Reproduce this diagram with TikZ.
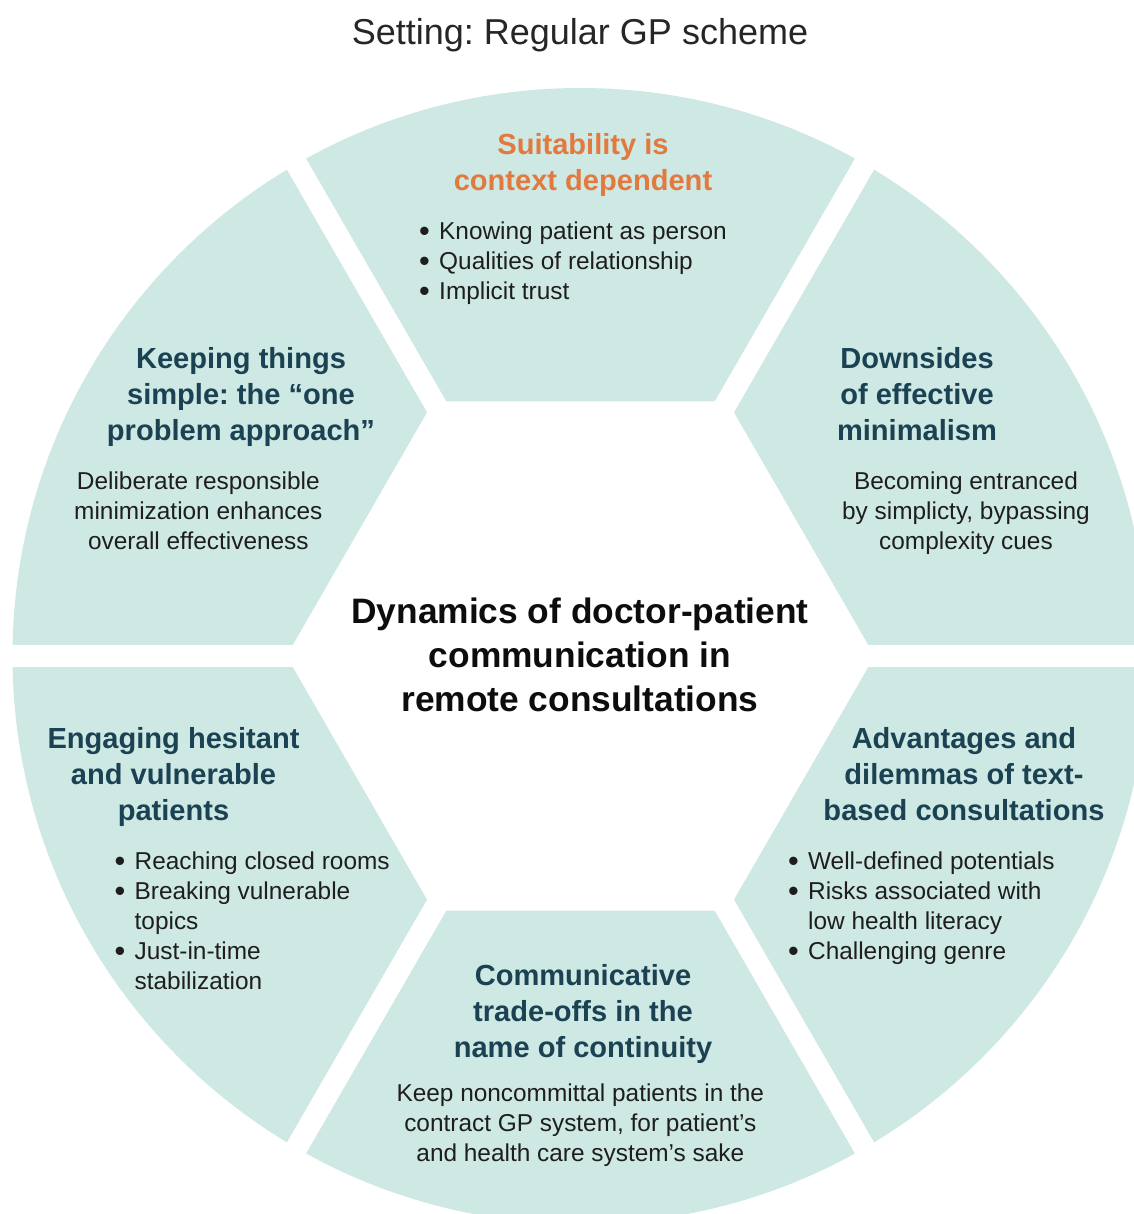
\documentclass[tikz,border=0pt]{standalone}
\usepackage{fontspec}
\setmainfont{Liberation Sans}
\usepackage{xcolor}
\usetikzlibrary{positioning}
\frenchspacing
\definecolor{segfill}{HTML}{CEE8E4}
\definecolor{headteal}{HTML}{1B4252}
\definecolor{headorange}{HTML}{E27A3F}
\definecolor{bodyink}{HTML}{1E1E1E}
\tikzset{%
  % text classes
  settingtxt/.style={font=\fontsize{27}{33}\selectfont, text=black!85, inner sep=0pt},
  hubtxt/.style={align=center, font=\fontsize{26.5}{33}\selectfont\bfseries, text=black!95, inner sep=0pt},
  head/.style={align=center, text=headteal, font=\fontsize{21.8}{27}\selectfont\bfseries,
    inner sep=0pt, text height=16pt, text depth=5.5pt},
  body/.style={align=center, text=bodyink, font=\fontsize{18.3}{22.5}\selectfont, inner sep=0pt},
  bullets/.style={body, align=left},
  % ring pieces
  gapline/.style={draw=white, line width=16.5pt},
}
\newcommand{\bitem}{\makebox[0.82em][l]{\raisebox{-1.4pt}{\fontsize{23}{0}\selectfont\textbullet}}}
\newcommand{\bcont}{\hspace*{0.82em}}

\begin{document}
\begin{tikzpicture}[x=0.75pt, y=-0.75pt]
  \useasboundingbox (0,0) rectangle (1134,1214);
  \clip (0,0) rectangle (1134,1214);
  \coordinate (ctr) at (580.5,656);

  % six segments around a hexagonal hub
  \fill[segfill] (ctr) circle[radius=568];
  \foreach \a in {0,60,...,300}
    \draw[gapline] (ctr) -- ++(\a:600);
  \fill[white, shift={(ctr)}] (0:294) \foreach \a in {60,120,...,300}{ -- (\a:294)} -- cycle;

  \node[settingtxt] (setting) at (580,35) {Setting: Regular GP scheme};
  \node[hubtxt] (hub) at (580,655) {Dynamics of doctor-patient\\communication in\\remote consultations};

  \node[head, text=headorange] (suithead) at (583,183) {Suitability is\\context dependent};
  \node[bullets, below=18pt of suithead, xshift=-7.5pt] (suitlist)
    {\bitem Knowing patient as person\\\bitem Qualities of relationship\\\bitem Implicit trust};

  \node[head] (keephead) at (241,433) {Keeping things\\simple: the “one\\problem approach”};
  \node[body, below=18pt of keephead, xshift=-32pt] (keepbody)
    {Deliberate responsible\\minimization enhances\\overall effectiveness};

  \node[head] (downhead) at (917,433) {Downsides\\of effective\\minimalism};
  \node[body, below=18pt of downhead, xshift=36.75pt] (downbody)
    {Becoming entranced\\by simplicty, bypassing\\complexity cues};

  \node[head] (enghead) at (173.5,813) {Engaging hesitant\\and vulnerable\\patients};
  \node[bullets, below=18pt of enghead, xshift=59pt] (englist)
    {\bitem Reaching closed rooms\\\bitem Breaking vulnerable\\\bcont topics\\\bitem Just-in-time\\\bcont stabilization};

  \node[head] (advhead) at (964,813) {Advantages and\\dilemmas of text-\\based consultations};
  \node[bullets, below=18pt of advhead, xshift=-32pt] (advlist)
    {\bitem Well-defined potentials\\\bitem Risks associated with\\\bcont low health literacy\\\bitem Challenging genre};

  \node[head] (conthead) at (583,1050) {Communicative\\trade-offs in the\\name of continuity};
  \node[body, below=14pt of conthead, xshift=-2pt] (contbody)
    {Keep noncommittal patients in the\\contract GP system, for patient’s\\and health care system’s sake};
\end{tikzpicture}
\end{document}
